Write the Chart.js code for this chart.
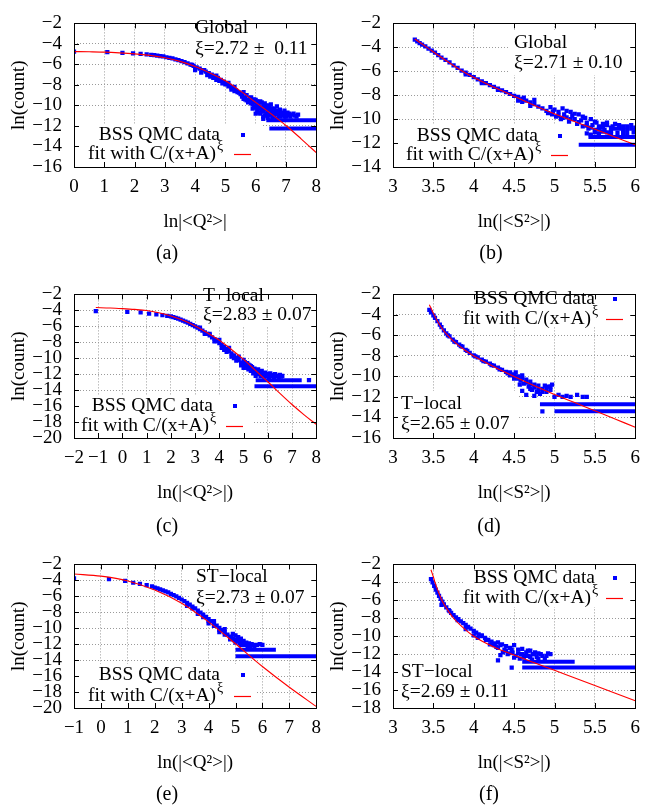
<!DOCTYPE html>
<html>
<head>
<meta charset="utf-8">
<script src="https://cdn.jsdelivr.net/npm/chart.js@4.4.0/dist/chart.umd.min.js"></script>
<style>
  body { margin: 0; background: #fff; width: 657px; height: 806px; position: relative; overflow: hidden; font-family: "Liberation Serif", serif; }
  canvas { position: absolute; }
  .cap { position: absolute; font-size: 20px; line-height: 1; transform: translate(-50%, -50%); color: #000; }
</style>
</head>
<body>
<canvas id="pa" width="330" height="265" style="left:0;top:0"></canvas>
<canvas id="pb" width="330" height="265" style="left:319px;top:0"></canvas>
<canvas id="pc" width="330" height="265" style="left:0;top:271px"></canvas>
<canvas id="pd" width="330" height="265" style="left:319px;top:271px"></canvas>
<canvas id="pe" width="330" height="265" style="left:0;top:541px"></canvas>
<canvas id="pf" width="330" height="265" style="left:319px;top:541px"></canvas>
<div class="cap" style="left:167px;top:252px">(a)</div>
<div class="cap" style="left:491px;top:252px">(b)</div>
<div class="cap" style="left:167px;top:525px">(c)</div>
<div class="cap" style="left:489px;top:525px">(d)</div>
<div class="cap" style="left:167px;top:793px">(e)</div>
<div class="cap" style="left:489px;top:793px">(f)</div>
<script>
// (a) global, Q^2
const aPts = [
  [0,-4.75],[1.1,-4.8],[1.6,-4.88],[1.95,-4.93],[2.2,-4.98],[2.4,-5.02],[2.55,-5.06],[2.65,-5.1],[2.75,-5.14],[2.85,-5.18],[2.95,-5.22],
  [3.05,-5.3],[3.15,-5.36],[3.25,-5.42],[3.35,-5.5],[3.45,-5.58],[3.55,-5.68],[3.65,-5.78],[3.75,-5.9],[3.85,-6.02],[3.95,-6.15],
  [4.05,-6.28],[4.15,-6.42],[4.25,-6.56],[4.35,-6.7],[4.45,-6.85],[4.55,-7.0],[4.65,-7.15],[4.75,-7.32],[4.85,-7.5],[4.95,-7.68],
  [5.05,-7.88],[5.15,-8.08],[5.25,-8.3],[5.35,-8.52],[5.45,-8.75],[5.55,-8.98],[5.65,-9.2],[5.75,-9.45],
  [4.0,-6.55],[4.2,-6.8],[4.4,-7.05],[4.6,-7.3],[4.8,-7.6],[5.0,-7.95],[5.2,-8.3],[5.4,-8.7],
  [3.9,-6.05],[4.3,-6.55],[4.7,-7.1],[5.1,-7.8],[5.3,-8.2],
  [5.6,-8.7],[5.7,-9.0],[5.8,-9.6],[5.85,-9.2],[5.9,-9.9],[5.95,-9.4],[6.0,-10.2],[6.0,-9.7],[6.05,-10.5],[6.1,-9.9],
  [6.15,-10.8],[6.2,-10.2],[6.25,-10.6],[6.3,-9.8],[6.3,-11.0],[6.35,-10.4],[6.4,-10.9],[6.45,-10.1],[6.5,-10.6],[6.55,-11.0],
  [6.6,-10.3],[6.65,-10.8],[6.7,-10.5],[6.75,-11.0],[6.8,-10.7],[6.9,-11.0],[7.0,-10.8],[7.1,-11.0],[7.2,-10.9],[7.3,-11.0],
  [5.9,-10.3],[6.05,-9.6],[6.1,-10.7],[6.2,-9.7],[6.25,-11.1],[6.4,-10.0],[6.45,-10.6],[6.55,-10.3],[6.6,-10.8],[6.7,-10.1],
  [6.8,-10.4],[6.85,-10.9],[6.95,-10.5],[7.05,-10.7],[6.5,-9.9],[6.15,-10.3],[6.35,-10.8],[5.75,-9.7],[5.65,-9.4],[6.0,-10.8],
  [5.5,-8.9],[5.55,-9.15],[5.6,-9.35],[5.7,-9.5],[5.8,-9.25],[5.85,-9.8],[5.9,-9.55],[5.95,-10.1],[6.0,-9.45],[6.05,-10.0],
  [6.1,-10.25],[6.15,-9.6],[6.2,-10.55],[6.25,-9.9],[6.3,-10.25],[6.35,-10.05],[6.4,-10.45],[6.45,-10.9],[6.5,-10.3],[6.55,-10.7],
  [6.6,-11.1],[6.65,-10.5],[6.7,-10.85],[6.75,-10.6],[6.8,-11.1],[6.85,-10.7],[6.9,-10.8],[6.95,-11.1],[7.0,-11.1],[7.1,-10.8],
  [7.15,-11.1],[7.25,-10.8],[7.35,-11.1],[7.4,-10.9],[6.25,-11.3],[6.4,-11.2],[6.55,-11.25],[6.7,-11.3],[5.3,-8.6],[5.2,-8.45],
  [5.1,-8.15],[4.9,-7.85],[4.7,-7.5],[4.5,-7.2]
];
const aFit = [[0,-4.75],[0.5,-4.77],[1,-4.8],[1.5,-4.87],[2,-4.97],[2.5,-5.12],[3,-5.35],[3.5,-5.7],[4,-6.2],[4.5,-6.85],
  [5,-7.6],[5.5,-8.6],[6,-9.7],[6.5,-10.8],[7,-11.95],[7.5,-13.25],[8,-14.6]];
const aBars = [[-11.45,6.35,8],[-12.25,6.45,8]]; // [y, x from, x to]

// (b) global, S^2
const bPts = [
  [3.27,-3.35],[3.3,-3.5],[3.33,-3.65],[3.36,-3.78],[3.4,-3.92],[3.44,-4.1],[3.48,-4.28],[3.52,-4.45],[3.56,-4.65],[3.6,-4.85],
  [3.65,-5.05],[3.7,-5.25],[3.75,-5.5],[3.8,-5.72],[3.85,-5.95],[3.9,-6.12],[3.95,-6.3],[4.0,-6.48],[4.05,-6.68],[4.1,-6.85],
  [4.15,-7.0],[4.2,-7.15],[4.25,-7.3],[4.3,-7.45],[4.35,-7.6],[4.4,-7.75],[4.45,-7.9],[4.5,-8.05],[4.55,-8.15],[4.6,-8.3],
  [4.65,-8.45],[4.7,-8.6],[4.75,-8.75],[4.8,-8.95],[4.85,-9.1],
  [3.9,-6.25],[4.1,-7.0],[4.3,-7.55],[4.55,-8.45],[4.6,-8.55],[4.62,-8.2],[4.7,-8.9],[4.75,-8.4],
  [4.9,-9.3],[4.95,-9.0],[4.97,-9.6],[5.0,-9.2],[5.02,-9.8],[5.05,-9.4],[5.08,-10.0],[5.1,-9.1],[5.12,-9.6],[5.15,-9.85],
  [5.18,-10.2],[5.2,-9.4],[5.22,-9.7],[5.25,-10.0],[5.28,-10.4],[5.3,-9.6],[5.33,-10.1],[5.35,-10.6],[5.38,-9.9],[5.4,-10.3],
  [5.42,-10.8],[5.45,-10.0],[5.47,-10.5],[5.5,-10.9],[5.52,-10.3],[5.55,-10.6],[5.6,-10.4],[5.62,-10.9],[5.65,-10.5],[5.7,-11.0],
  [5.72,-10.6],[5.75,-10.8],[5.8,-10.5],[5.85,-10.9],[5.9,-10.6],[5.95,-10.8],[6.0,-10.7],
  [5.4,-11.2],[5.55,-11.2],[5.7,-11.25],[5.85,-11.2],[5.98,-11.1],[5.6,-11.05],[5.78,-11.15],
  [4.92,-9.5],[4.98,-9.35],[5.05,-9.7],[5.1,-9.9],[5.15,-9.3],[5.2,-10.0],[5.25,-9.55],[5.3,-10.25],[5.35,-9.8],[5.4,-10.55],
  [5.45,-10.7],[5.5,-10.2],[5.55,-10.85],[5.6,-10.7],[5.65,-10.3],[5.7,-10.7],[5.75,-10.4],[5.8,-10.8],[5.85,-10.6],[5.9,-10.9],
  [5.95,-10.5],[6.0,-10.9],[5.45,-11.3],[5.5,-11.1],[5.65,-11.1],[5.9,-11.25]
];
const bFit = [[3.27,-3.3],[3.42,-4.0],[3.6,-4.85],[3.85,-5.95],[4.1,-6.85],[4.47,-8.0],[4.8,-9.0],[5.19,-10.05],[5.6,-11.1],[6,-12.15]];
const bBars = [[-11.5,5.42,6],[-12.15,5.3,6]];

// (c) T-local, Q^2
const cPts = [
  [-1.1,-4.1],[0.2,-4.2],[0.75,-4.25],[1.1,-4.4],[1.4,-4.5],[1.65,-4.6],[1.85,-4.68],[2.0,-4.75],
  [2.1,-4.85],[2.2,-4.95],[2.3,-5.05],[2.4,-5.15],[2.5,-5.28],[2.6,-5.4],[2.7,-5.55],[2.8,-5.7],[2.9,-5.85],[3.0,-6.0],
  [3.1,-6.17],[3.2,-6.35],[3.3,-6.55],[3.4,-6.75],[3.5,-6.95],[3.6,-7.15],[3.7,-7.38],[3.8,-7.6],[3.9,-7.85],[4.0,-8.1],
  [4.1,-8.35],[4.2,-8.6],[4.3,-8.85],[4.4,-9.1],[4.5,-9.4],[4.6,-9.65],[4.7,-9.95],[4.8,-10.25],[4.9,-10.55],[5.0,-10.85],
  [3.2,-6.15],[3.6,-6.95],[4.0,-7.7],[4.4,-8.7],[4.8,-9.8],[5.0,-10.2],
  [3.4,-6.95],[3.8,-7.9],[4.2,-8.95],[4.6,-10.0],[5.0,-11.2],
  [5.1,-11.0],[5.15,-10.6],[5.2,-11.4],[5.25,-10.9],[5.3,-11.6],[5.35,-11.1],[5.4,-11.9],[5.45,-11.3],[5.5,-11.7],[5.5,-12.2],
  [5.6,-11.4],[5.65,-11.9],[5.7,-12.2],[5.75,-11.6],[5.8,-12.0],[5.9,-11.8],[6.0,-12.1],[6.1,-11.9],[6.2,-12.2],[6.3,-12.0],
  [6.4,-12.2],[6.5,-12.1],[5.55,-11.9],[5.85,-12.3],[6.05,-12.4],[6.25,-12.4],[6.45,-12.4],[4.9,-10.9],[5.05,-10.5],[5.2,-10.8],
  [7.7,-12.75],
  [5.05,-10.9],[5.1,-10.6],[5.15,-11.2],[5.25,-11.3],[5.3,-11.0],[5.35,-11.6],[5.4,-11.4],[5.45,-11.8],[5.55,-11.6],[5.6,-12.0],
  [5.7,-11.8],[5.75,-12.1],[5.85,-11.9],[5.95,-12.2],[6.05,-12.0],[6.15,-12.1],[6.35,-12.2],[6.55,-12.3],[6.6,-12.2],[4.7,-10.3],
  [4.5,-9.8],[4.3,-9.2],[4.1,-8.7]
];
const cFit = [[-1.1,-3.65],[-0.5,-3.7],[0,-3.78],[0.5,-3.88],[1,-4.02],[1.5,-4.3],[2,-4.7],[2.5,-5.25],[3,-5.95],[3.5,-6.8],
  [4,-7.75],[4.5,-8.9],[5,-10.15],[5.5,-11.55],[6,-12.95],[6.5,-14.4],[7,-15.8],[7.5,-17.1],[8,-18.3]];
const cBars = [[-12.75,5.5,7.4],[-13.5,5.45,8]];

// (d) T-local, S^2
const dPts = [
  [3.45,-3.5],[3.47,-3.75],[3.5,-4.05],[3.52,-4.3],[3.55,-4.6],[3.58,-4.95],[3.6,-5.2],[3.63,-5.5],[3.66,-5.8],[3.7,-6.1],
  [3.74,-6.4],[3.78,-6.65],[3.82,-6.9],[3.86,-7.1],[3.9,-7.4],[3.95,-7.7],[4.0,-7.95],[4.05,-8.15],[4.1,-8.35],[4.15,-8.55],
  [4.2,-8.75],[4.25,-8.95],[4.3,-9.15],[4.35,-9.35],[4.4,-9.55],[4.45,-9.75],[4.5,-9.95],
  [3.68,-6.0],[3.76,-6.6],[3.84,-7.05],[3.92,-7.5],[4.02,-8.05],[4.12,-8.5],[4.22,-8.9],[4.32,-9.3],[4.42,-9.7],
  [4.45,-9.9],[4.5,-10.2],[4.52,-9.6],[4.55,-10.0],[4.58,-10.4],[4.6,-9.9],[4.62,-10.7],[4.65,-10.3],[4.68,-11.0],[4.7,-10.5],
  [4.72,-11.3],[4.75,-10.8],[4.78,-11.5],[4.8,-10.9],[4.82,-11.7],[4.85,-11.2],[4.88,-10.9],[4.9,-11.5],[4.92,-11.0],[4.95,-11.3],
  [4.97,-10.8],[4.6,-11.4],[4.65,-11.8],[4.75,-11.9],
  [5.0,-12.0],[5.05,-11.8],[5.1,-12.0],[5.15,-11.9],[5.2,-12.0],[5.28,-11.8],[5.35,-12.0],[5.4,-12.0],[4.85,-13.4],
  [4.45,-9.6],[4.5,-9.8],[4.55,-10.2],[4.6,-10.15],[4.65,-10.6],[4.7,-10.8],[4.75,-11.1],[4.8,-11.3],[4.85,-11.5],[4.9,-11.2],
  [4.95,-11.0],[4.57,-10.8],[4.7,-11.2]
];
const dFit = [[3.45,-3.0],[3.5,-3.85],[3.55,-4.6],[3.6,-5.25],[3.7,-6.2],[3.8,-6.9],[3.9,-7.5],[4,-8.0],[4.25,-9.05],[4.5,-10.0],
  [4.75,-10.9],[5,-11.75],[5.25,-12.55],[5.5,-13.35],[5.75,-14.15],[6,-14.95]];
const dBars = [[-12.7,4.82,6],[-13.4,5.0,6]];

// (e) ST-local, Q^2
const ePts = [
  [-1,-3.75],[0.3,-3.85],[0.9,-4.05],[1.2,-4.3],[1.45,-4.45],[1.7,-4.6],[1.9,-4.75],
  [2.0,-4.9],[2.1,-5.0],[2.2,-5.12],[2.3,-5.25],[2.4,-5.38],[2.5,-5.52],[2.6,-5.68],[2.7,-5.85],[2.8,-6.02],[2.9,-6.2],
  [3.0,-6.4],[3.1,-6.6],[3.2,-6.82],[3.3,-7.05],[3.4,-7.28],[3.5,-7.52],[3.6,-7.78],[3.7,-8.04],[3.8,-8.3],[3.9,-8.58],
  [4.0,-8.85],[4.1,-9.12],[4.2,-9.4],[4.3,-9.68],[4.4,-9.96],[4.5,-10.25],[4.6,-10.52],[4.7,-10.8],[4.8,-11.05],
  [3.2,-7.2],[3.6,-8.2],[4.0,-9.4],[4.4,-10.5],[4.8,-11.4],
  [4.2,-9.1],[4.6,-10.1],[4.9,-10.7],
  [4.9,-11.3],[5.0,-10.9],[5.05,-11.6],[5.1,-11.1],[5.15,-11.9],[5.2,-11.3],[5.25,-12.0],[5.3,-11.6],[5.35,-12.1],[5.4,-11.8],
  [5.45,-12.2],[5.5,-12.0],[5.55,-12.2],[5.6,-12.0],[5.7,-12.2],[5.9,-12.0],[6.0,-12.1],[5.0,-11.4],[5.1,-11.6],[5.2,-11.8],
  [4.85,-11.2],[4.95,-11.5],[5.0,-11.8],[5.1,-11.4],[5.15,-11.6],[5.2,-12.1],[5.25,-11.7],[5.3,-12.0],[5.4,-12.1],[5.5,-11.9],
  [5.65,-12.1],[5.8,-12.1],[4.6,-10.8],[4.4,-10.2],[4.2,-9.7],[4.0,-9.1],[3.8,-8.6],[3.4,-7.5]
];
const eFit = [[-1,-3.2],[0,-3.47],[1,-4.07],[2,-5.2],[3,-6.86],[4,-9.2],[5,-11.95],[6,-14.8],[7,-17.4],[8,-19.8]];
const eBars = [[-12.7,5.0,6.5],[-13.5,5.0,8]];

// (f) ST-local, S^2
const fPts = [
  [3.47,-3.65],[3.49,-4.0],[3.51,-4.4],[3.53,-4.8],[3.55,-5.15],[3.57,-5.5],[3.59,-5.85],[3.61,-6.15],[3.63,-6.45],[3.66,-6.8],
  [3.69,-7.1],[3.72,-7.4],[3.75,-7.65],[3.78,-7.9],[3.81,-8.1],[3.84,-8.35],[3.87,-8.55],[3.9,-8.75],[3.93,-8.95],[3.96,-9.15],
  [4.0,-9.4],[4.03,-9.6],[4.06,-9.8],[4.1,-10.0],[4.14,-10.2],[4.18,-10.4],[4.22,-10.6],[4.26,-10.8],
  [3.6,-6.5],[3.7,-7.2],[3.8,-8.2],[3.9,-9.2],[4.0,-9.9],[4.05,-10.2],[4.1,-9.9],[4.15,-10.4],
  [4.25,-11.0],[4.3,-10.7],[4.3,-11.3],[4.35,-10.9],[4.38,-11.5],[4.4,-11.1],[4.42,-12.0],[4.45,-11.3],[4.48,-11.8],[4.5,-11.0],
  [4.52,-12.2],[4.55,-11.5],[4.58,-12.0],[4.6,-11.4],[4.62,-12.4],[4.65,-11.8],[4.68,-12.2],[4.7,-11.6],[4.72,-12.6],[4.75,-12.0],
  [4.78,-12.3],[4.8,-11.9],[4.85,-12.2],[4.88,-12.5],[4.92,-11.9],[4.33,-12.1],[4.3,-12.7],[4.47,-13.5],
  [4.2,-10.9],[4.28,-11.2],[4.33,-11.0],[4.36,-11.8],[4.4,-11.6],[4.44,-11.9],[4.47,-11.5],[4.5,-12.4],[4.55,-11.9],[4.57,-12.5],
  [4.6,-12.0],[4.64,-12.2],[4.67,-11.6],[4.7,-12.3],[4.73,-12.0],[4.76,-11.8],[4.8,-12.5],[4.83,-12.0],[4.9,-12.2],[4.95,-12.0]
];
const fFit = [[3.47,-2.6],[3.5,-3.4],[3.52,-4.0],[3.56,-5.0],[3.6,-5.9],[3.65,-6.7],[3.7,-7.4],[3.75,-8.0],[3.85,-8.9],[4,-10.0],
  [4.25,-11.2],[4.5,-12.1],[4.75,-12.95],[5,-13.8],[5.5,-15.5],[6,-17.2]];
const fBars = [[-12.85,4.6,5.25],[-13.5,4.6,6]];

const BLUE = '#0000ff';
const RED = '#ff0000';
const SERIF = "'Liberation Serif', serif";
const TXT = "19.5px 'Liberation Serif', serif";
const SUP = "14px 'Liberation Serif', serif";

const minus = v => (v < 0 ? '\u2212' + Math.abs(v) : String(v));

// text boxes, key and inward ticks, drawn in canvas pixels
const deco = {
  id: 'deco',
  beforeDatasetsDraw(chart, args, o) {
    const ctx = chart.ctx;
    ctx.save();
    ctx.fillStyle = '#fff';
    o.boxes.forEach(b => ctx.fillRect(b[0], b[1], b[2] - b[0], b[3] - b[1]));
    ctx.restore();
  },
  afterDraw(chart, args, o) {
    const ctx = chart.ctx, a = chart.chartArea;
    const sx = chart.scales.x, sy = chart.scales.y;
    ctx.save();
    ctx.strokeStyle = '#000';
    ctx.lineWidth = 1;
    ctx.beginPath();
    sx.ticks.forEach(t => {
      const p = Math.round(sx.getPixelForValue(t.value)) + 0.5;
      ctx.moveTo(p, a.bottom); ctx.lineTo(p, a.bottom - 5);
      ctx.moveTo(p, a.top); ctx.lineTo(p, a.top + 5);
    });
    sy.ticks.forEach(t => {
      const p = Math.round(sy.getPixelForValue(t.value)) + 0.5;
      ctx.moveTo(a.left, p); ctx.lineTo(a.left + 5, p);
      ctx.moveTo(a.right, p); ctx.lineTo(a.right - 5, p);
    });
    ctx.stroke();
    ctx.strokeRect(Math.round(a.left) + 0.5, Math.round(a.top) + 0.5, Math.round(a.width), Math.round(a.height));

    ctx.fillStyle = '#000';
    ctx.font = TXT;
    ctx.textBaseline = 'middle';
    ctx.textAlign = 'left';
    o.notes.lines.forEach((s, i) => ctx.fillText(s, o.notes.x, o.notes.y[i]));

    const k = o.key;
    ctx.textAlign = 'right';
    ctx.fillText('BSS QMC data', k.x, k.y1);
    ctx.fillText('fit with C/(x+A)', k.x - 4, k.y2);
    ctx.font = SUP;
    ctx.textAlign = 'left';
    ctx.fillText('\u03BE', k.x - 3, k.y2 - 8);
    ctx.fillStyle = BLUE;
    ctx.fillRect(k.sx - 2, k.y1 - 2, 4, 4);
    ctx.strokeStyle = RED;
    ctx.lineWidth = 1.2;
    ctx.beginPath();
    ctx.moveTo(k.sx - 9, k.y2 + 0.5);
    ctx.lineTo(k.sx + 8, k.y2 + 0.5);
    ctx.stroke();
    ctx.restore();
  }
};

function makePanel(id, p) {
  const datasets = [
    { data: p.fit.map(([x, y]) => ({ x, y })), showLine: true, borderColor: RED, borderWidth: 1.1,
      pointRadius: 0, cubicInterpolationMode: 'monotone' },
    ...p.bars.map(([y, x0, x1]) => ({ data: [{ x: x0, y }, { x: x1, y }], showLine: true,
      borderColor: BLUE, borderWidth: 4, pointRadius: 0, borderCapStyle: 'butt' })),
    { data: p.pts.map(([x, y]) => ({ x, y })), pointStyle: 'rect', pointRadius: 3,
      pointBackgroundColor: BLUE, pointBorderColor: BLUE, pointBorderWidth: 0 }
  ];
  const grid = { color: '#9a9a9a', lineWidth: 1, drawTicks: false };
  const border = { display: false, dash: [1, 2] };
  new Chart(document.getElementById(id), {
    type: 'scatter',
    data: { datasets },
    options: {
      responsive: false,
      animation: false,
      devicePixelRatio: 1,
      layout: { padding: { top: 17, right: 13, bottom: 32, left: 0 } },
      plugins: { legend: { display: false }, tooltip: { enabled: false }, deco: p.deco },
      scales: {
        x: {
          type: 'linear', min: p.xMin, max: p.xMax,
          afterFit: s => { s.height = 66; },
          ticks: { stepSize: p.xStep, color: '#000', font: { family: SERIF, size: 19 }, padding: 9,
            maxRotation: 0, autoSkip: false, callback: minus },
          grid, border,
          title: { display: true, text: p.xTitle, color: '#000', font: { family: SERIF, size: 19 }, padding: 0 }
        },
        y: {
          type: 'linear', min: p.yMin, max: -2,
          afterFit: s => { s.width = 74; },
          ticks: { stepSize: 2, color: '#000', font: { family: SERIF, size: 19 }, padding: 12,
            autoSkip: false, callback: minus },
          grid, border,
          title: { display: true, text: 'ln(count)', color: '#000', font: { family: SERIF, size: 19 },
            padding: { top: 8, bottom: 0 } }
        }
      }
    },
    plugins: [deco]
  });
}

makePanel('pa', { pts: aPts, fit: aFit, bars: aBars, xMin: 0, xMax: 8, xStep: 1, yMin: -16,
  xTitle: 'ln|<Q\u00B2>|',
  deco: { boxes: [[74, 124, 262, 167], [190, 17, 316, 60]],
    notes: { lines: ['Global', '\u03BE=2.72 \u00B1  0.11'], x: 195, y: [28, 49] },
    key: { x: 220, y1: 135, y2: 154, sx: 243 } } });

makePanel('pb', { pts: bPts, fit: bFit, bars: bBars, xMin: 3, xMax: 6, xStep: 0.5, yMin: -14,
  xTitle: 'ln(|<S\u00B2>|)',
  deco: { boxes: [[74, 125, 259, 167], [190, 30, 316, 75]],
    notes: { lines: ['Global', '\u03BE=2.71 \u00B1 0.10'], x: 195, y: [43, 63] },
    key: { x: 219, y1: 136, y2: 155, sx: 241 } } });

makePanel('pc', { pts: cPts, fit: cFit, bars: cBars, xMin: -2, xMax: 8, xStep: 1, yMin: -20,
  xTitle: 'ln(|<Q\u00B2>|)',
  deco: { boxes: [[74, 124, 252, 167], [198, 17, 316, 56]],
    notes: { lines: ['T\u2212local', '\u03BE=2.83 \u00B1 0.07'], x: 203, y: [25, 44] },
    key: { x: 213, y1: 135, y2: 155, sx: 235 } } });

makePanel('pd', { pts: dPts, fit: dFit, bars: dBars, xMin: 3, xMax: 6, xStep: 0.5, yMin: -16,
  xTitle: 'ln(|<S\u00B2>|)',
  deco: { boxes: [[144, 17, 316, 56], [74, 120, 198, 167]],
    notes: { lines: ['T\u2212local', '\u03BE=2.65 \u00B1 0.07'], x: 82, y: [133, 153] },
    key: { x: 276, y1: 28, y2: 48, sx: 296 } } });

makePanel('pe', { pts: ePts, fit: eFit, bars: eBars, xMin: -1, xMax: 8, xStep: 1, yMin: -20,
  xTitle: 'ln(|<Q\u00B2>|)',
  deco: { boxes: [[74, 123, 257, 167], [190, 22, 316, 68]],
    notes: { lines: ['ST\u2212local', '\u03BE=2.73 \u00B1 0.07'], x: 196, y: [36, 57] },
    key: { x: 220, y1: 134, y2: 155, sx: 243 } } });

makePanel('pf', { pts: fPts, fit: fFit, bars: fBars, xMin: 3, xMax: 6, xStep: 0.5, yMin: -18,
  xTitle: 'ln(|<S\u00B2>|)',
  deco: { boxes: [[144, 17, 316, 66], [74, 118, 200, 167]],
    notes: { lines: ['ST\u2212local', '\u03BE=2.69 \u00B1 0.11'], x: 82, y: [131, 151] },
    key: { x: 276, y1: 37, y2: 57, sx: 296 } } });
</script>
</body>
</html>
